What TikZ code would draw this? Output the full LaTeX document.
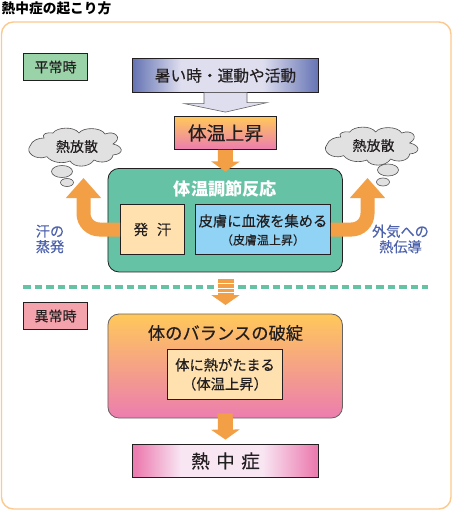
\documentclass[tikz,border=0pt]{standalone}
\usepackage{fontspec}
\setmainfont{Noto Sans CJK JP}[FakeBold=0.3]
\newfontfamily\plainjp{Noto Sans CJK JP}
\usetikzlibrary{arrows.meta,shapes.geometric,calc}
\definecolor{frameC}{HTML}{FCC98E}
\definecolor{greenC}{HTML}{66C2A5}
\definecolor{labelG}{HTML}{9BD3A8}
\definecolor{labelP}{HTML}{F4A3AC}
\definecolor{creamC}{HTML}{FFE1B0}
\definecolor{blueC}{HTML}{90D3F5}
\definecolor{arrowC}{HTML}{F29F45}
\definecolor{navyT}{HTML}{4D62AD}
\definecolor{inkC}{HTML}{231F20}
\definecolor{yelC}{HTML}{FFC85A}
\definecolor{pinkC}{HTML}{EC7DB0}
\definecolor{paleP}{HTML}{F8E6F3}
\definecolor{slateC}{HTML}{6473B3}
\definecolor{paleB}{HTML}{DEDEEF}
\definecolor{cloudC}{HTML}{E1E1E1}
\pgfdeclarehorizontalshading{slatebar}{100bp}{color(0bp)=(slateC); color(25bp)=(slateC); color(38bp)=(paleB); color(60bp)=(paleB); color(75bp)=(slateC); color(100bp)=(slateC)}
\pgfdeclarehorizontalshading{pinkbar}{100bp}{color(0bp)=(pinkC); color(26bp)=(pinkC); color(38bp)=(paleP); color(60bp)=(paleP); color(74bp)=(pinkC); color(100bp)=(pinkC)}
\newcommand\puffcloud[2]{%
  \draw[puff,shift={(#1,#2)}] (-30,9.7)
    .. controls (-42,14) and (-52,5) .. (-47,-1)
    .. controls (-45,-7) and (-38,-9) .. (-33,-9)
    .. controls (-36,-13) and (-30,-15) .. (-24,-14)
    .. controls (-20,-20) and (-3,-21) .. (2,-14)
    .. controls (6,-20) and (24,-20) .. (28,-13)
    .. controls (38,-17) and (46,-9) .. (36,-3)
    .. controls (46,-1) and (48,7) .. (36,8)
    .. controls (35,15) and (24,17) .. (17,13)
    .. controls (12,21) and (-3,21) .. (-7,14)
    .. controls (-14,17) and (-25,16) .. (-30,9.7) -- cycle;}
\tikzset{
  x=1pt,y=-1pt,
  basebox/.style={draw=inkC,line width=.8pt,inner sep=0pt,text=inkC,align=center},
  tagbox/.style={basebox,minimum width=64pt,minimum height=27pt,font=\fontsize{14}{16}\selectfont},
  bigarrow/.style={draw=arrowC,line width=15pt,-{Triangle[width=28pt,length=10pt]}},
  curvearrow/.style={draw=arrowC,line width=14pt,rounded corners=16pt,-{Triangle[width=34pt,length=20pt]}},
  sidetext/.style={text=navyT,align=center,inner sep=0pt,font=\fontsize{14.2}{15.5}\selectfont},
  puff/.style={draw=inkC!80,line width=.6pt,fill=cloudC,inner sep=0pt},
  cloudtext/.style={inner sep=0pt,text=inkC,font=\fontsize{14}{16}\selectfont},
}
\begin{document}
\begin{tikzpicture}
\useasboundingbox (0,0) rectangle (453,511);
\fill[white] (0,0) rectangle (453,511);
\draw[frameC,line width=1.4pt,rounded corners=12pt] (1.5,22) rectangle (451,509);
\node[anchor=west,inner sep=0pt,text=black,font=\fontsize{13.7}{16}\selectfont\plainjp\bfseries] (title) at (1.5,8) {熱中症の起こり方};

\node[tagbox,fill=labelG] (normal) at (55.5,67) {平常時};
\node[tagbox,fill=labelP] (abnormal) at (55.5,316) {異常時};

% top box and rising temperature
\node[basebox,minimum width=186pt,minimum height=33.5pt,shading=slatebar,font=\fontsize{15.7}{18}\selectfont] (heat) at (225.5,75.5) {暑い時・運動や活動};
\node[basebox,minimum width=102pt,minimum height=33pt,top color=yelC,bottom color=pinkC,font=\fontsize{18.8}{20}\selectfont] (rise) at (225.5,133) {体温上昇};
\draw[draw=inkC!70,line width=.6pt,fill=paleB]
  ($(heat.south)+(-21.5,0)$) -- ++(0,11) -- ++(-19.5,0) -- ($(rise.north)+(0,-4)$) -- ++(41.5,-9.5) -- ++(-20,0) -- ($(heat.south)+(21.5,0)$) -- cycle;

% regulation block
\node[basebox,fill=greenC,rounded corners=11pt,minimum width=234.5pt,minimum height=103.5pt] (reg) at (225.2,220.2) {};
\node[inner sep=0pt,text=white,font=\fontsize{17.2}{19}\selectfont\plainjp\bfseries] (regt) at (225.5,189) {体温調節反応};
\node[basebox,fill=creamC,minimum width=64pt,minimum height=50pt,font=\fontsize{14.5}{16}\selectfont] (sweat) at (152.5,229.5) {発\hspace{.6em}汗};
\node[basebox,fill=blueC,minimum width=135pt,minimum height=50pt] (skin) at (263,229.5) {};
\node[inner sep=0pt,text=inkC,font=\fontsize{14.3}{16}\selectfont] (skinA) at (263,221) {皮膚に血液を集める};
\node[inner sep=0pt,text=inkC,font=\fontsize{12}{14}\selectfont] (skinB) at (263,240) {（皮膚温上昇）};

\draw[bigarrow] (rise.south) -- ($(reg.north)+(0,3.5)$);

% clouds
\puffcloud{77}{147}
\puffcloud{373.7}{146}
\node[cloudtext] (cloudL) at (77,146.5) {熱放散};
\node[cloudtext] (cloudR) at (373.5,145.5) {熱放散};
\node[puff,ellipse,minimum width=21pt,minimum height=12pt] (bubL1) at (62,171.5) {};
\node[puff,ellipse,minimum width=13pt,minimum height=8pt] (bubL2) at (67,182.5) {};
\node[puff,ellipse,minimum width=21pt,minimum height=12pt] (bubR1) at (388,170) {};
\node[puff,ellipse,minimum width=13pt,minimum height=8pt] (bubR2) at (383,182) {};

% evaporation arrows
\coordinate (tipL) at (83.5,178);
\coordinate (tipR) at (367.5,178);
\draw[curvearrow] (sweat.west) -| (tipL);
\draw[curvearrow] (skin.east) -| (tipR);
\node[sidetext] (evap) at (50,239) {汗の\\蒸発};
\node[sidetext] (conv) at (400.5,239) {外気への\\熱伝導};

% divider
\draw[greenC,line width=4pt,dash pattern=on 7.5pt off 4pt] (23,287) -- (214,287);
\draw[greenC,line width=4pt,dash pattern=on 7.5pt off 4pt] (238,287) -- (428,287);
\coordinate (divT) at (225.5,279);
\coordinate (divB) at (225.5,305);
\draw[bigarrow,line width=16pt] (divT) -- (divB);
\foreach \yy in {283,287.5,292} \fill[white] (217,\yy) rectangle (234,\yy+1);

% imbalance block
\node[draw=inkC!70,line width=.8pt,top color=yelC,bottom color=pinkC,rounded corners=11pt,minimum width=234.5pt,minimum height=104pt,inner sep=0pt] (imb) at (225.2,366) {};
\node[inner sep=0pt,text=inkC,font=\fontsize{17.3}{19}\selectfont] (imbt) at (225.5,333) {体のバランスの破綻};
\node[basebox,fill=creamC,minimum width=115pt,minimum height=50pt,font=\fontsize{14.3}{19}\selectfont] (store) at (225,374.5) {体に熱がたまる\\（体温上昇）};

% heatstroke
\node[basebox,minimum width=186pt,minimum height=33pt,shading=pinkbar,font=\fontsize{18.5}{20}\selectfont] (stroke) at (225.5,461) {熱\hspace{.35em}中\hspace{.35em}症};
\draw[bigarrow] ($(imb.south)+(0,-5)$) -- ($(stroke.north)+(0,-4.5)$);
\end{tikzpicture}
\end{document}
